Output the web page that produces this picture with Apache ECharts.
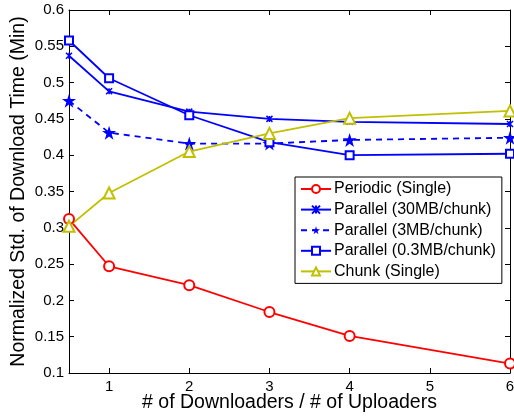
<!DOCTYPE html>
<html>
<head>
<meta charset="utf-8">
<script src="https://cdn.jsdelivr.net/npm/echarts@6/dist/echarts.min.js"></script>
<style>html,body{margin:0;padding:0;background:#fff}#c{width:514px;height:416px}</style>
</head>
<body>
<div id="c"></div>
<script>
const xValues = [0.5, 1, 2, 3, 4, 6];
const xTicks = [1, 2, 3, 4, 5, 6];
const periodic = [0.312, 0.247, 0.221, 0.184, 0.151, 0.113];
const parallel30 = [0.537, 0.488, 0.460, 0.450, 0.446, 0.443];
const parallel3 = [0.475, 0.431, 0.416, 0.416, 0.421, 0.424];
const parallel03 = [0.558, 0.506, 0.455, 0.418, 0.400, 0.402];
const chunk = [0.302, 0.348, 0.405, 0.430, 0.451, 0.461];
const names = ['Periodic (Single)', 'Parallel (30MB/chunk)', 'Parallel (3MB/chunk)', 'Parallel (0.3MB/chunk)', 'Chunk (Single)'];

const pair = arr => xValues.map((x, i) => [x, arr[i]]);
const FONT = 'Liberation Sans';
const STAR = 'path://M5 0 L6.18 3.6 L10 3.6 L6.9 5.85 L8.1 9.5 L5 7.25 L1.9 9.5 L3.1 5.85 L0 3.6 L3.82 3.6 Z';
const AST = 'path://M0 0 L10 10 M10 0 L0 10 M5 0 L5 10';

function mk(name, data, color, symbol, size, dashed, extra) {
  return Object.assign({
    name: name, type: 'line', data: pair(data),
    symbol: symbol, symbolSize: size,
    lineStyle: {color: color, width: 1.8, type: dashed ? [6, 5] : 'solid'},
    itemStyle: {color: color, borderColor: color, borderWidth: 1.5},
    emphasis: {disabled: true}, animation: false, z: 3
  }, extra || {});
}

const chart = echarts.init(document.getElementById('c'), null, {renderer: 'canvas'});
chart.setOption({
  animation: false,
  backgroundColor: '#fff',
  grid: {left: 69, right: 4, top: 10, bottom: 43, show: false, containLabel: false, outerBoundsMode: 'none'},
  legend: {
    orient: 'vertical', left: 295, top: 177,
    backgroundColor: '#fff', borderColor: '#000', borderWidth: 1,
    padding: [4, 6, 4, 5], itemGap: 4.6, itemWidth: 30, itemHeight: 10,
    textStyle: {fontFamily: FONT, fontSize: 16, color: '#000', padding: [0, 0, 0, -2]},
    data: names
  },
  xAxis: [{
    type: 'value', min: 0.5, max: 6,
    name: '# of Downloaders / # of Uploaders', nameLocation: 'middle', nameGap: 20, nameMoveOverlap: false,
    nameTextStyle: {fontFamily: FONT, fontSize: 19.5, color: '#000'},
    axisLine: {show: true, onZero: false, lineStyle: {color: '#000', width: 1}},
    axisTick: {show: true, inside: true, length: 5, customValues: xTicks, lineStyle: {color: '#000'}},
    axisLabel: {show: true, customValues: xTicks, margin: 6, fontFamily: FONT, fontSize: 15, color: '#000'},
    splitLine: {show: false}
  }, {
    type: 'value', min: 0.5, max: 6, position: 'top',
    axisLine: {show: true, onZero: false, lineStyle: {color: '#000', width: 1}},
    axisTick: {show: true, inside: true, length: 5, customValues: xTicks, lineStyle: {color: '#000'}},
    axisLabel: {show: false}, splitLine: {show: false}
  }],
  yAxis: [{
    type: 'value', min: 0.1, max: 0.6, interval: 0.05,
    name: 'Normalized Std. of Download Time (Min)', nameLocation: 'middle', nameGap: 40, nameMoveOverlap: false,
    nameTextStyle: {fontFamily: FONT, fontSize: 19.5, color: '#000'},
    axisLine: {show: true, onZero: false, lineStyle: {color: '#000', width: 1}},
    axisTick: {show: true, inside: true, length: 5, lineStyle: {color: '#000'}},
    axisLabel: {margin: 5, fontFamily: FONT, fontSize: 15, color: '#000',
      formatter: v => String(parseFloat(v.toFixed(2)))},
    splitLine: {show: false}
  }, {
    type: 'value', min: 0.1, max: 0.6, interval: 0.05, position: 'right',
    axisLine: {show: true, onZero: false, lineStyle: {color: '#000', width: 1}},
    axisTick: {show: true, inside: true, length: 5, lineStyle: {color: '#000'}},
    axisLabel: {show: false}, splitLine: {show: false}
  }],
  series: [
    mk(names[0], periodic, '#ff0000', 'emptyCircle', 10, false),
    mk(names[1], parallel30, '#0000ff', AST, 6, false),
    mk(names[2], parallel3, '#0000ff', STAR, 14, true, {itemStyle: {color: '#0000ff', borderWidth: 0}}),
    mk(names[3], parallel03, '#0000ff', 'emptyRect', 8, false),
    mk(names[4], chunk, '#c0c000', 'emptyTriangle', 11, false)
  ]
});
</script>
</body>
</html>
